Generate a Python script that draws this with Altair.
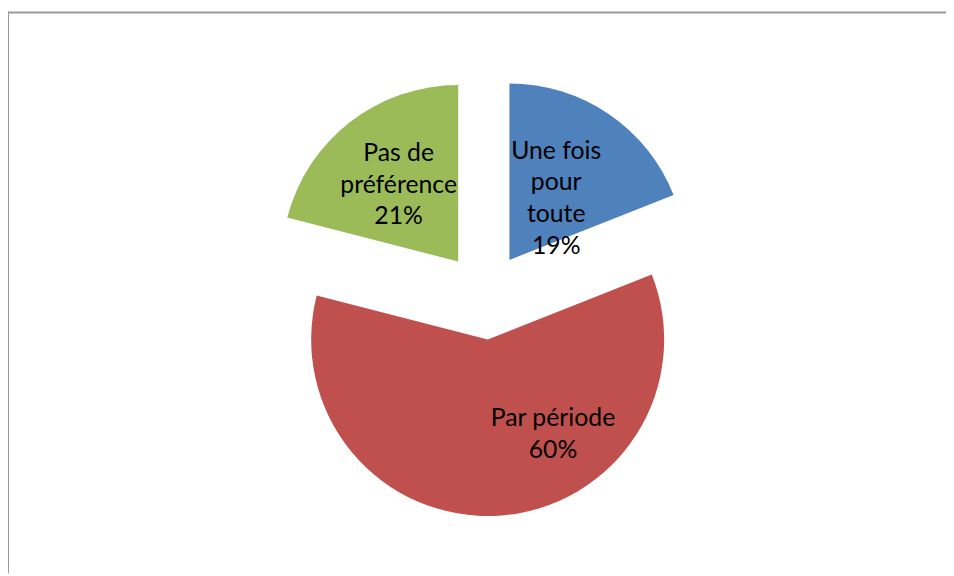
import altair as alt
import pandas as pd

# ---- data ----
categories = ["Une fois pour toute", "Par période", "Pas de préférence"]
values = [19, 60, 21]
label_lines = ["Une fois\npour\ntoute", "Par période", "Pas de\npréférence"]

# ---- style ----
colors = ["#4F81BD", "#C0504D", "#9BBB59"]
W, H = 946, 568
CX, CY = 481, 288
R = 178
EXPLODE = 44
LINE_H = 32
label_radius = [78, 116, 98]
label_shift_deg = [3, -31, 0]

df = pd.DataFrame({
    "category": categories,
    "value": values,
    "label": label_lines,
    "order": list(range(len(categories))),
    "lr": label_radius,
    "ls": label_shift_deg,
})

base = alt.Chart(df).transform_joinaggregate(
    total="sum(value)"
).transform_window(
    cum="sum(value)", sort=[alt.SortField("order")], frame=[None, 0]
).transform_calculate(
    t1="2*PI*datum.cum/datum.total",
    t0="2*PI*(datum.cum-datum.value)/datum.total",
).transform_calculate(
    mid="(datum.t0+datum.t1)/2"
).transform_calculate(
    cx=f"{CX}+{EXPLODE}*sin(datum.mid)",
    cy=f"{CY}-{EXPLODE}*cos(datum.mid)",
    la="datum.mid+datum.ls*PI/180",
    txt="datum.label+'\\n'+format(datum.value/datum.total,'.0%')",
).transform_calculate(
    nl="length(split(datum.txt,'\\n'))",
).transform_calculate(
    lx="datum.cx+datum.lr*sin(datum.la)",
    ly=f"datum.cy-datum.lr*cos(datum.la)-(datum.nl-1)*{LINE_H}/2",
)

arcs = base.mark_arc(outerRadius=R).encode(
    x=alt.X("cx:Q", scale=None, axis=None),
    y=alt.Y("cy:Q", scale=None, axis=None),
    theta=alt.Theta("t0:Q", scale=None, stack=None),
    theta2=alt.Theta2("t1:Q"),
    color=alt.Color("category:N", scale=alt.Scale(domain=categories, range=colors), legend=None),
)

labels = base.mark_text(
    lineBreak="\n", font="Lato", fontSize=25, lineHeight=LINE_H,
    align="center", baseline="middle", color="black",
).encode(
    x=alt.X("lx:Q", scale=None, axis=None),
    y=alt.Y("ly:Q", scale=None, axis=None),
    text="txt:N",
)

frame_data = alt.Data(values=[{"k": 0}])
top_rule = alt.Chart(frame_data).mark_rule(color="#9a9a9a", strokeWidth=2).encode(
    x=alt.value(0), x2=alt.value(W), y=alt.value(2)
)
left_rule = alt.Chart(frame_data).mark_rule(color="#9a9a9a", strokeWidth=2).encode(
    x=alt.value(0), y=alt.value(1), y2=alt.value(H)
)

chart = alt.layer(arcs, labels, top_rule, left_rule).properties(
    width=W, height=H, autosize=alt.AutoSizeParams(type="none"), padding=0
).configure_view(stroke=None)

chart.save("out.html", embed_options={"renderer": "svg", "actions": False})
